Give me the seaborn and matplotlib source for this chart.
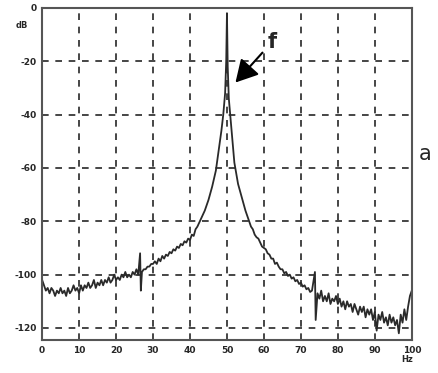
import matplotlib
matplotlib.use("Agg")
import matplotlib.pyplot as plt
import seaborn as sns
import pandas as pd

# spectrum (Hz, dB)
freq_hz = [0, 0.5, 1, 1.5, 2, 2.5, 3, 3.5, 4, 4.5, 5, 5.5, 6, 6.5, 7, 7.5, 8, 8.5, 9, 9.5,
           10, 10.5, 11, 11.5, 12, 12.5, 13, 13.5, 14, 14.5, 15, 15.5, 16, 16.5, 17, 17.5,
           18, 18.5, 19, 19.5, 20, 20.5, 21, 21.5, 22, 22.5, 23, 23.5, 24, 24.5, 25, 25.5,
           26, 26.5, 26.7, 27, 27.5, 28, 28.5, 29, 29.5,
           30, 30.5, 31, 31.5, 32, 32.5, 33, 33.5, 34, 34.5, 35, 35.5, 36, 36.5, 37, 37.5,
           38, 38.5, 39, 39.5, 40, 40.5, 41, 41.5, 42, 43, 44, 45, 46, 46.5, 47, 47.5,
           48, 48.5, 49, 49.5, 49.8, 50, 50.2, 50.5, 51, 51.5, 52, 53, 54, 55,
           56, 56.5, 57, 57.5, 58, 58.5, 59, 59.5, 60, 60.5, 61, 61.5, 62, 62.5, 63, 63.5,
           64, 64.5, 65, 65.5, 66, 66.5, 67, 67.5, 68, 68.5, 69, 69.5, 70, 70.5, 71, 71.5,
           72, 72.5, 73, 73.8, 74, 74.5,
           75, 75.5, 76, 76.5, 77, 77.5, 78, 78.5, 79, 79.5, 80, 80.5, 81, 81.5, 82, 82.5,
           83, 83.5, 84, 84.5, 85, 85.5, 86, 86.5, 87, 87.5, 88, 88.5, 89, 89.5, 90, 90.5,
           91, 91.5, 92, 92.5, 93, 93.5, 94, 94.5, 95, 95.5, 96, 96.5, 97, 97.5, 98, 98.5,
           99, 99.5, 100]
level_db = [-102, -104, -106, -105, -107, -105, -106, -108, -106, -107, -105, -107, -106,
            -108, -105, -107, -106, -104, -106, -105, -107, -104, -106, -104, -105, -103,
            -105, -104, -102, -105, -103, -104, -102, -104, -102, -103, -101, -103, -102,
            -100, -102, -101, -102, -100, -101, -99, -101, -100, -101, -99, -100, -98,
            -100, -92, -106, -99, -98, -98, -97, -97, -96,
            -96, -95, -96, -94, -95, -93, -94, -92.5, -93, -91.5, -92, -90.5, -91, -89.5,
            -90, -88.5, -89, -87.5, -88, -86.5, -87, -85, -85.5, -83, -82, -79, -76, -72,
            -67, -64, -61, -56, -51, -46, -40, -32, -20, -2, -22, -34, -42, -50, -58, -66,
            -71, -76,
            -80, -82, -83, -85, -86, -86.5, -88, -89.5, -90, -90.5, -92, -92.5, -94, -94,
            -96, -95.5, -97, -98, -98, -99.5, -99, -100.5, -100, -101.5, -101, -102.5,
            -102, -103.5, -103, -104.5, -104, -105.5, -105, -106.5, -106, -99, -117, -107,
            -109, -106, -110, -108, -110, -107, -111, -109, -110, -108, -111, -109, -112,
            -110, -113, -110, -112, -111, -114, -111, -113, -115, -112, -114, -112, -116,
            -113, -115, -113, -117, -114, -121, -115, -117, -114, -118, -116, -119, -115,
            -118, -116, -119, -117, -122, -115, -118, -113, -117, -112, -108, -106]

x_ticks = [0, 10, 20, 30, 40, 50, 60, 70, 80, 90, 100]
y_ticks = [0, -20, -40, -60, -80, -100, -120]

df = pd.DataFrame({"Hz": freq_hz, "dB": level_db})

sns.set_style("white")
fig = plt.figure(figsize=(4.39, 3.73), dpi=100)
ax = fig.add_axes([0.096, 0.0885, 0.842, 0.8905])

sns.lineplot(data=df, x="Hz", y="dB", ax=ax, color="#2a2a2a", linewidth=1.3)

ax.set_xlim(0, 100)
ax.set_ylim(-124.5, 0)
ax.set_xticks(x_ticks)
ax.set_yticks(y_ticks)
ax.set_xticklabels([str(t) for t in x_ticks], fontsize=6.5, fontweight="bold")
ax.set_yticklabels([str(t) for t in y_ticks], fontsize=6.5, fontweight="bold")
ax.tick_params(length=0, pad=4)
ax.set_xlabel("")
ax.set_ylabel("")

ax.grid(True, color="black", linestyle=(0, (4, 4)), linewidth=1.2, alpha=0.85)
for s in ax.spines.values():
    s.set_color("#555555")
    s.set_linewidth(1.5)

fig.text(0.035, 0.925, "dB", fontsize=6, fontweight="bold")
fig.text(0.915, 0.03, "Hz", fontsize=6, fontweight="bold")
fig.text(0.955, 0.57, "a", fontsize=15)

ax.annotate("f", xy=(52.3, -28), xytext=(61, -15),
            fontsize=15, fontweight="bold",
            arrowprops=dict(arrowstyle="-|>,head_width=0.5,head_length=0.9",
                            color="black", linewidth=1.5, shrinkB=0))

fig.savefig("out.png", dpi=100)
